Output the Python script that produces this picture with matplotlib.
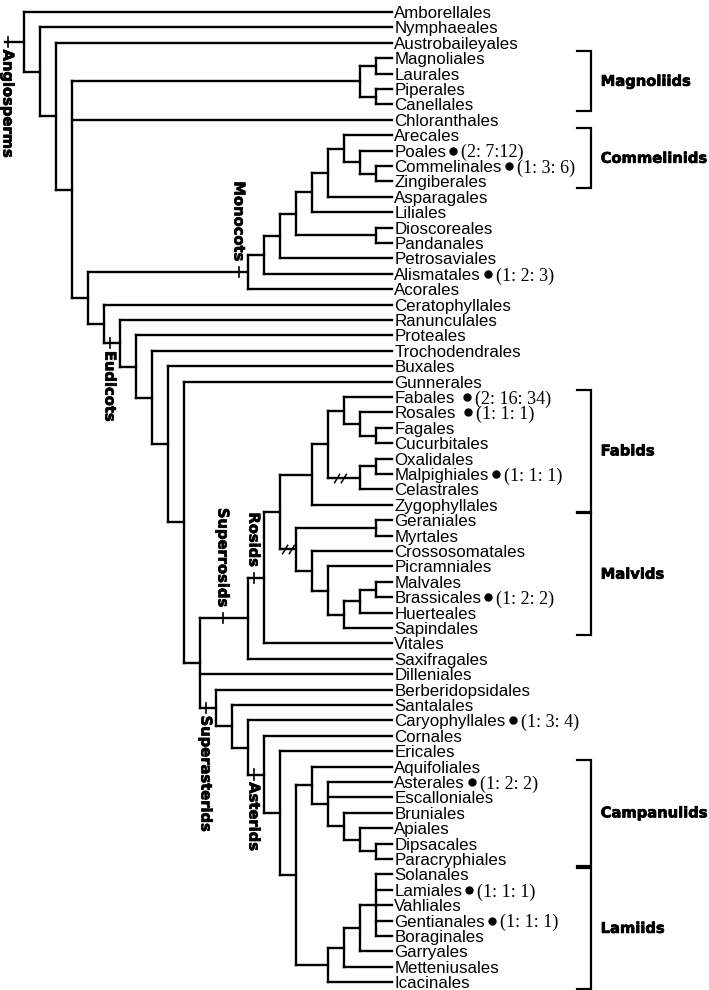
import matplotlib
matplotlib.use("Agg")
import matplotlib.pyplot as plt
from matplotlib.path import Path
import matplotlib.patheffects as pe

# ---------------- data: tree topology (node depth, children) ----------------
TIP_DEPTH = 23

magnoliids = (21, [(22, ["Magnoliales", "Laurales"]), (22, ["Piperales", "Canellales"])])
commelinids = (20, ["Arecales", (21, ["Poales", (22, ["Commelinales", "Zingiberales"])])])
monocots = (14, [(15, [(16, [(17, [(18, [(19, [commelinids, "Asparagales"]), "Liliales"]),
                                   (22, ["Dioscoreales", "Pandanales"])]),
                             "Petrosaviales"]),
                       "Alismatales"]),
                 "Acorales"])
com_clade = (21, [(22, ["Oxalidales", "Malpighiales"]), "Celastrales"])
fabids = (18, [(19, [(20, ["Fabales", (21, ["Rosales", (22, ["Fagales", "Cucurbitales"])])]),
                     com_clade]),
               "Zygophyllales"])
malvids = (17, [(22, ["Geraniales", "Myrtales"]),
                (18, ["Crossosomatales",
                      (19, ["Picramniales",
                            (20, [(21, [(22, ["Malvales", "Brassicales"]), "Huerteales"]),
                                  "Sapindales"])])])])
rosids = (15, [(16, [fabids, malvids]), "Vitales"])
superrosids = (14, [rosids, "Saxifragales"])
campanulids = (18, ["Aquifoliales",
                    (19, ["Asterales", "Escalloniales",
                          (20, ["Bruniales", (21, ["Apiales", (22, ["Dipsacales", "Paracryphiales"])])])])])
lamiids = (19, [(20, [(21, [(22, ["Solanales", "Lamiales", "Vahliales", "Gentianales", "Boraginales"]),
                            "Garryales"]),
                      "Metteniusales"]),
                "Icacinales"])
asterids = (15, ["Cornales", (16, ["Ericales", (17, [campanulids, lamiids])])])
superasterids = (12, ["Berberidopsidales", (13, ["Santalales", (14, ["Caryophyllales", asterids])])])
eudicots = (6, ["Ranunculales",
                (7, ["Proteales",
                     (8, ["Trochodendrales",
                          (9, ["Buxales",
                               (10, ["Gunnerales",
                                     (11, [superrosids, "Dilleniales", superasterids])])])])])])
angiosperms = (0, ["Amborellales",
                   (1, ["Nymphaeales",
                        (2, ["Austrobaileyales",
                             (3, [magnoliids, "Chloranthales",
                                  (4, [monocots, (5, ["Ceratophyllales", eudicots])])])])])])

# genome annotation next to some orders
annot_names = ["Poales", "Commelinales", "Alismatales", "Fabales", "Rosales", "Malpighiales",
               "Brassicales", "Caryophyllales", "Asterales", "Lamiales", "Gentianales"]
annot_texts = ["(2: 7:12)", "(1: 3: 6)", "(1: 2: 3)", "(2: 16: 34)", "(1: 1: 1)", "(1: 1: 1)",
               "(1: 2: 2)", "(1: 3: 4)", "(1: 2: 2)", "(1: 1: 1)", "(1: 1: 1)"]

# right-hand brackets: (label, first leaf, last leaf)
brackets = [("Magnoliids", "Magnoliales", "Canellales"),
            ("Commelinids", "Arecales", "Zingiberales"),
            ("Fabids", "Fabales", "Zygophyllales"),
            ("Malvids", "Geraniales", "Sapindales"),
            ("Campanulids", "Aquifoliales", "Paracryphiales"),
            ("Lamiids", "Solanales", "Icacinales")]

# stem labels: (label, clade, tick depth on its stem, side)
stem_labels = [("Angiosperms", angiosperms, -1.0, "below"),
               ("Monocots", monocots, 13.44, "above"),
               ("Eudicots", eudicots, 5.375, "below"),
               ("Superrosids", superrosids, 12.44, "above"),
               ("Rosids", rosids, 14.375, "above"),
               ("Superasterids", superasterids, 11.375, "below"),
               ("Asterids", asterids, 14.375, "below")]

# stems carrying a "//" break mark: (clade, depth of mark)
break_marks = [(com_clade, 19.75), (malvids, 16.5)]

# ---------------- drawing ----------------
W, H, DPI = 709, 990, 100
fig = plt.figure(figsize=(W / DPI, H / DPI), dpi=DPI)
fig.patch.set_facecolor("white")
ax = fig.add_axes([0, 0, 1, 1])
ax.set_xlim(-1.5, 42.8125)
ax.set_ylim(63.5, -0.779)
ax.axis("off")

LINE = dict(color="black", lw=1.7, solid_capstyle="projecting")
BOLD = dict(family="DejaVu Sans", fontweight="bold", fontsize=10.6, color="black",
            path_effects=[pe.withStroke(linewidth=0.5, foreground="black")])
leaves = []
node_pos = {}


def draw(node):
    if isinstance(node, str):
        y = len(leaves)
        leaves.append(node)
        return TIP_DEPTH, y
    depth, children = node
    pts = [draw(c) for c in children]
    ys = [p[1] for p in pts]
    ax.plot([depth, depth], [min(ys), max(ys)], **LINE)
    for cx, cy in pts:
        ax.plot([depth, cx], [cy, cy], **LINE)
    y = (min(ys) + max(ys)) / 2
    node_pos[id(node)] = (depth, y)
    return depth, y


root_x, root_y = draw(angiosperms)
ax.plot([-1.2, root_x], [root_y, root_y], **LINE)

leaf_row = {name: i for i, name in enumerate(leaves)}
label_objs = {}
for name, i in leaf_row.items():
    label_objs[name] = ax.text(TIP_DEPTH + 0.15, i, name, family="Liberation Sans", fontsize=12.2,
                               ha="left", va="center_baseline", color="black")

# annotations: dot + serif counts after the label
fig.canvas.draw()
renderer = fig.canvas.get_renderer()
inv = ax.transData.inverted()
for name, txt in zip(annot_names, annot_texts):
    bb = label_objs[name].get_window_extent(renderer)
    i = leaf_row[name]
    gap = 12 if name in ("Fabales", "Rosales") else 7
    dot_x = inv.transform((bb.x1 + gap, 0))[0]
    txt_x = inv.transform((bb.x1 + gap + 8, 0))[0]
    ax.plot([dot_x], [i], marker="o", ms=5, color="black", ls="none")
    ax.text(txt_x, i, txt, family="Liberation Serif", fontsize=13, ha="left",
            va="center_baseline", color="black")

# brackets on the right
BX = 35.44
for lab, first, last in brackets:
    y0 = leaf_row[first] - 0.45
    y1 = leaf_row[last] + 0.45
    ax.plot([BX - 0.875, BX, BX, BX - 0.875], [y0, y0, y1, y1], color="black", lw=1.6,
            solid_joinstyle="miter")
    ax.text(BX + 0.6, (y0 + y1) / 2, lab, ha="left", va="center", **BOLD)

# stem ticks and rotated clade names
for lab, clade, tx, side in stem_labels:
    _, sy = node_pos[id(clade)]
    ax.plot([tx, tx], [sy - 0.33, sy + 0.33], color="black", lw=1.2)
    if side == "below":
        off, va = -5.5, "top"
    else:
        off, va = 7.5, "bottom"
    ax.annotate(lab, xy=(tx, sy), xytext=(0, off), textcoords="offset points",
                rotation=-90, ha="center", va=va, **BOLD)

# "//" break marks
brk = Path([(-1.3, -1.0), (-0.1, 1.0), (0.1, -1.0), (1.3, 1.0)],
           [Path.MOVETO, Path.LINETO, Path.MOVETO, Path.LINETO])
for clade, bx in break_marks:
    _, by = node_pos[id(clade)]
    ax.plot([bx], [by], marker=brk, ms=9, mec="black", mfc="none", mew=1.1, ls="none")

fig.savefig("out.png", dpi=DPI, facecolor="white")
